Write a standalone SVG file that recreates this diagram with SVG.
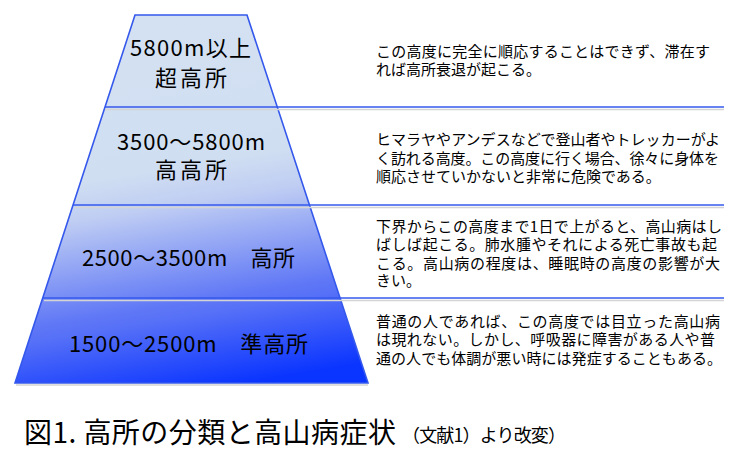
<svg xmlns="http://www.w3.org/2000/svg" width="750" height="458" viewBox="0 0 750 458">
<defs>
<linearGradient id="mtn" gradientUnits="userSpaceOnUse" x1="180" y1="15" x2="240" y2="384">
<stop offset="0" stop-color="#D3E1F2"/>
<stop offset="0.40" stop-color="#D0DEF2"/>
<stop offset="0.50" stop-color="#BFCDF3"/>
<stop offset="0.76" stop-color="#6078F6"/>
<stop offset="0.80" stop-color="#5670F7"/>
<stop offset="1" stop-color="#0A34FF"/>
</linearGradient>
<style>
.lbl{font-family:"Noto Sans CJK JP","Noto Sans",sans-serif;font-size:22px;fill:#000}
.desc{font-family:"Noto Sans CJK JP","Noto Sans",sans-serif;font-size:15px;fill:#000}
.cap{font-family:"Noto Sans CJK JP","Noto Sans",sans-serif;fill:#000}
.edge{stroke:#3458EC;stroke-width:1.6;fill:none}
.shadow{stroke:#D4D4D4;stroke-width:1.5;fill:none}
</style>
</defs>
<rect width="750" height="458" fill="#FFFFFF"/>
<g id="mountain">
<polygon points="135,15 247,15 368,383 15,383" fill="url(#mtn)"/>
<line class="shadow" x1="16" y1="385" x2="368" y2="385"/>
<polygon class="edge" points="135,15 247,15 368,383 15,383"/>
</g>
<g id="connectors">
<line class="shadow" x1="105" y1="109.5" x2="724" y2="109.5"/>
<line class="shadow" x1="75" y1="207.5" x2="724" y2="207.5"/>
<line class="shadow" x1="44" y1="300.5" x2="724" y2="300.5"/>
<line class="edge" x1="105" y1="107" x2="724" y2="107"/>
<line class="edge" x1="73" y1="205" x2="724" y2="205"/>
<line class="edge" x1="43" y1="298" x2="724" y2="298"/>
</g>
<g id="zone1">
<text class="lbl" x="130" y="56" textLength="121">5800m以上</text>
<text class="lbl" x="155" y="86" textLength="72">超高所</text>
<text class="desc" x="376" y="57" textLength="334">この高度に完全に順応することはできず、滞在す</text>
<text class="desc" x="376" y="75">れば高所衰退が起こる。</text>
</g>
<g id="zone2">
<text class="lbl" x="117" y="150" textLength="148">3500～5800m</text>
<text class="lbl" x="155" y="178" textLength="72">高高所</text>
<text class="desc" x="376" y="145" textLength="344">ヒマラヤやアンデスなどで登山者やトレッカーがよ</text>
<text class="desc" x="376" y="163.5" textLength="343">く訪れる高度。この高度に行く場合、徐々に身体を</text>
<text class="desc" x="376" y="182">順応させていかないと非常に危険である。</text>
</g>
<g id="zone3">
<text class="lbl" x="82" y="266" textLength="213">2500～3500m　高所</text>
<text class="desc" x="376" y="232" textLength="346">下界からこの高度まで1日で上がると、高山病はし</text>
<text class="desc" x="376" y="250" textLength="341">ばしば起こる。肺水腫やそれによる死亡事故も起</text>
<text class="desc" x="376" y="268.5" textLength="344">こる。高山病の程度は、睡眠時の高度の影響が大</text>
<text class="desc" x="376" y="286">きい。</text>
</g>
<g id="zone4">
<text class="lbl" x="69" y="352" textLength="239">1500～2500m　準高所</text>
<text class="desc" x="376" y="327" textLength="344">普通の人であれば、この高度では目立った高山病</text>
<text class="desc" x="376" y="345" textLength="339">は現れない。しかし、呼吸器に障害がある人や普</text>
<text class="desc" x="376" y="363.5" textLength="346">通の人でも体調が悪い時には発症することもある。</text>
</g>
<g id="caption">
<text class="cap" x="24" y="443" font-size="28" textLength="372">図1. 高所の分類と高山病症状</text>
<text class="cap" x="402" y="442" font-size="18" textLength="164">（文献1）より改変）</text>
</g>
</svg>
